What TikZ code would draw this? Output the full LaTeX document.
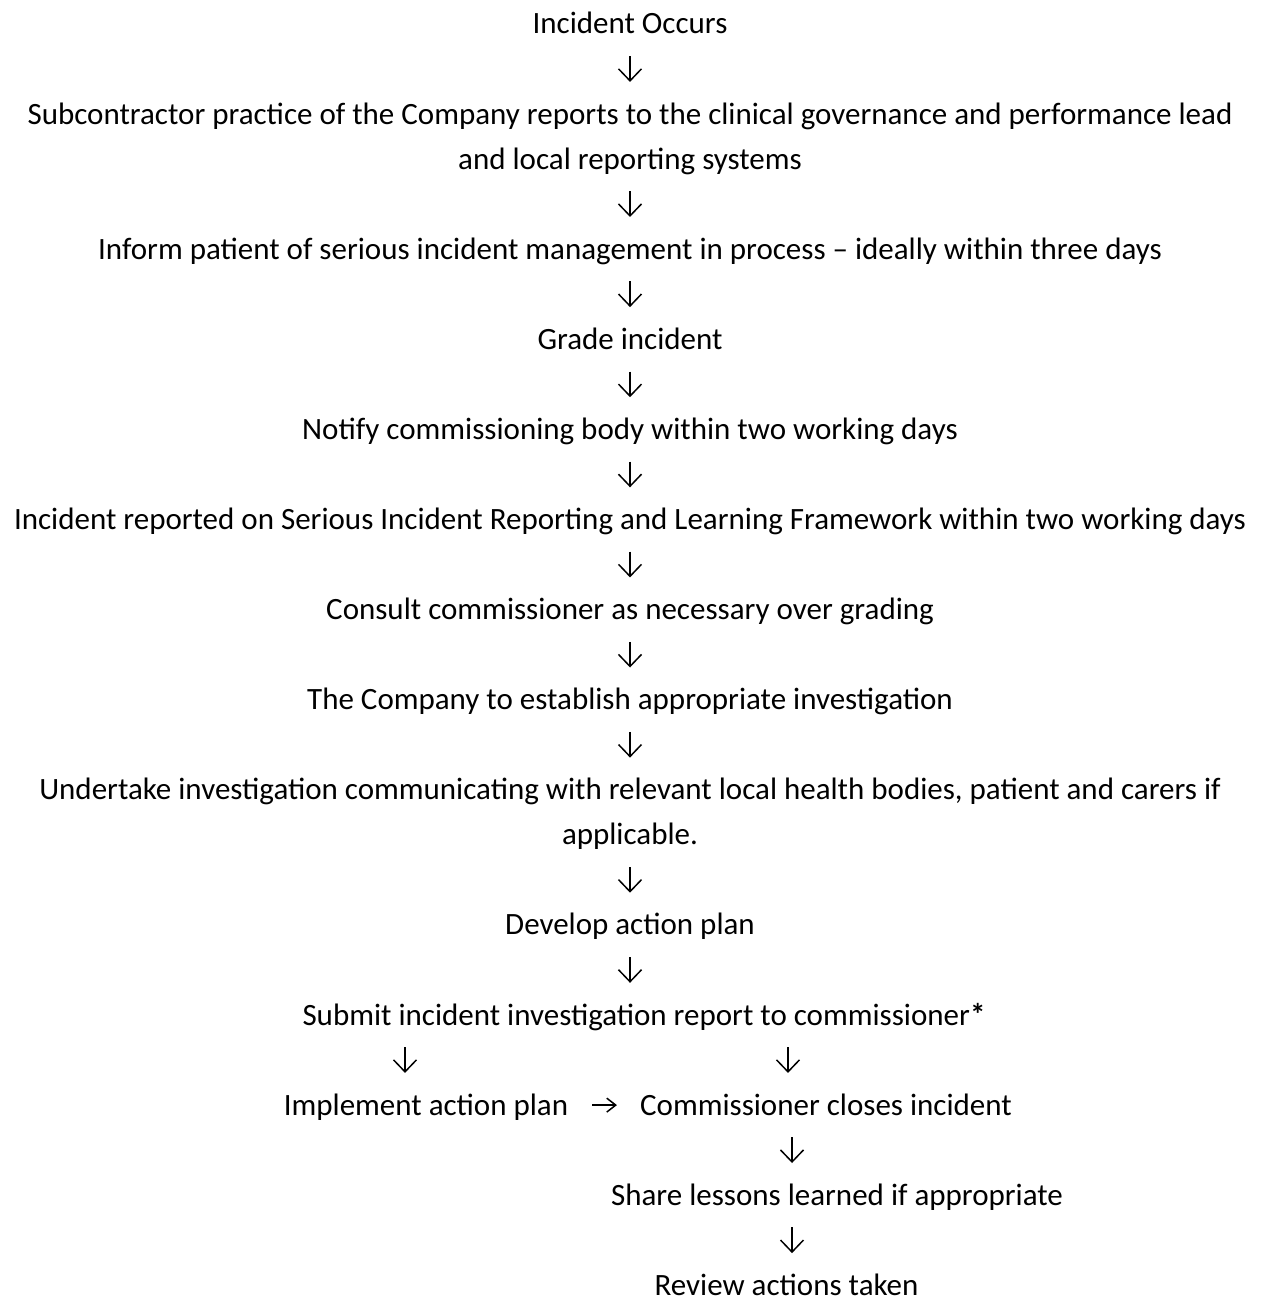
\documentclass[tikz,border=0pt]{standalone}
\usepackage{fontspec}
\setmainfont{Carlito}
\usepackage{tikz}
\usetikzlibrary{arrows.meta,positioning}

\begin{document}
\begin{tikzpicture}[x=1pt,y=1pt,
    node distance=61.7pt,
    stepline/.style={inner sep=0pt,text height=22pt,text depth=6pt,align=center,
                     font=\fontsize{31}{45}\selectfont},
    twoline/.style={stepline,text height=67pt},
    flow/.style={line width=1.5pt,-{Straight Barb[length=12pt,width=23pt]},
                 shorten <=16pt,shorten >=20pt},
    sideflow/.style={line width=1.5pt,-{Straight Barb[length=9pt,width=14pt]},
                     shorten <=24pt,shorten >=23pt}]
\useasboundingbox (0,0) rectangle (1260,-1297);

% main column
\node[stepline,anchor=base] (occurs) at (630,-34) {Incident Occurs};
\node[twoline,below=of occurs] (report) {Subcontractor practice of the Company reports to the clinical governance and performance lead\\and local reporting systems};
\node[stepline,below=of report] (inform) {Inform patient of serious incident management in process – ideally within three days};
\node[stepline,below=of inform] (grade) {Grade incident};
\node[stepline,below=of grade] (notify) {Notify commissioning body within two working days};
\node[stepline,below=of notify] (framework) {Incident reported on Serious Incident Reporting and Learning Framework within two working days};
\node[stepline,below=of framework] (consult) {Consult commissioner as necessary over grading};
\node[stepline,below=of consult] (establish) {The Company to establish appropriate investigation};
\node[twoline,below=of establish] (undertake) {Undertake investigation communicating with relevant local health bodies, patient and carers if\\applicable.};
\node[stepline,below=of undertake] (develop) {Develop action plan};
\node[stepline,below=of develop,xshift=14pt] (submit) {Submit incident investigation report to commissioner\textbf{*}};

% split at the bottom
\node[stepline,below=of submit,xshift=-218pt] (implement) {Implement action plan};
\node[stepline,below=of submit,xshift=182pt] (closes) {Commissioner closes incident};
\node[stepline,below=of closes,xshift=11pt] (share) {Share lessons learned if appropriate};
\node[stepline,below=of share,xshift=-50.5pt] (review) {Review actions taken};

\draw[flow] (occurs) -- (report);
\draw[flow] (report) -- (inform);
\draw[flow] (inform) -- (grade);
\draw[flow] (grade) -- (notify);
\draw[flow] (notify) -- (framework);
\draw[flow] (framework) -- (consult);
\draw[flow] (consult) -- (establish);
\draw[flow] (establish) -- (undertake);
\draw[flow] (undertake) -- (develop);
\draw[flow] (develop.south) -- (develop.south |- submit.north);
\draw[flow] ([xshift=-21pt]implement.north |- submit.south) -- ([xshift=-21pt]implement.north);
\draw[flow] ([xshift=-38pt]closes.north |- submit.south) -- ([xshift=-38pt]closes.north);
\draw[sideflow] ([yshift=2pt]implement.east) -- ([yshift=2pt]closes.west);
\draw[flow] ([xshift=-34pt]closes.south) -- ([xshift=-34pt]closes.south |- share.north);
\draw[flow] ([xshift=5.5pt]review.north |- share.south) -- ([xshift=5.5pt]review.north);
\end{tikzpicture}
\end{document}
